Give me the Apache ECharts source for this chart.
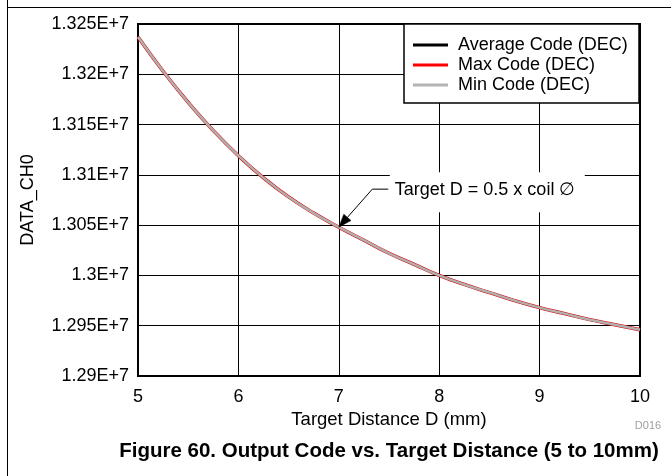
<!DOCTYPE html>
<html><head><meta charset="utf-8">
<script src="https://cdn.jsdelivr.net/npm/echarts@6/dist/echarts.min.js"></script>
<style>html,body{margin:0;padding:0;background:#fff}#c{width:671px;height:476px}</style>
</head><body><div id="c"></div>
<script>
// Target distance (mm)
const distances = [5, 5.25, 5.5, 5.75, 6, 6.25, 6.5, 6.75, 7, 7.25, 7.5, 7.75, 8, 8.25, 8.5, 8.75, 9, 9.25, 9.5, 9.75, 10];
// Codes (DEC)
const avgCode = [13237000, 13203000, 13172000, 13144000, 13119000, 13097000, 13078000, 13062000, 13048000, 13035000, 13022000, 13011000, 13000000, 12991000, 12983000, 12975000, 12968000, 12962000, 12956000, 12951000, 12946000];
const maxCode = [13237000, 13203000, 13172000, 13144000, 13119000, 13097000, 13078000, 13062000, 13048000, 13035000, 13022000, 13011000, 13000000, 12991000, 12983000, 12975000, 12968000, 12962000, 12956000, 12951000, 12946000];
const minCode = [13237000, 13203000, 13172000, 13144000, 13119000, 13097000, 13078000, 13062000, 13048000, 13035000, 13022000, 13011000, 13000000, 12991000, 12983000, 12975000, 12968000, 12962000, 12956000, 12951000, 12946000];
const yTicks = [12900000, 12950000, 13000000, 13050000, 13100000, 13150000, 13200000, 13250000];
const yTickLabels = ['1.29E+7', '1.295E+7', '1.3E+7', '1.305E+7', '1.31E+7', '1.315E+7', '1.32E+7', '1.325E+7'];
const xTickLabels = ['5', '6', '7', '8', '9', '10'];
const seriesNames = ['Average Code (DEC)', 'Max Code (DEC)', 'Min Code (DEC)'];
const annotationText = 'Target D = 0.5 x coil \u2205';
const annotationX = 7;
const captionText = 'Figure 60. Output Code vs. Target Distance (5 to 10mm)';

const FONT = '"Liberation Sans", Arial, Helvetica, sans-serif';
const pairs = arr => distances.map((d, i) => [d, arr[i]]);

const chart = echarts.init(document.getElementById('c'), null, {renderer: 'canvas'});
const option = {
  animation: false,
  backgroundColor: '#fff',
  grid: {left: 138, right: 31, top: 24, bottom: 100, show: true, borderColor: '#000', borderWidth: 2, backgroundColor: 'transparent', containLabel: false},
  xAxis: {
    type: 'value', min: 5, max: 10, interval: 1,
    name: 'Target Distance D (mm)', nameLocation: 'middle', nameGap: 30,
    nameTextStyle: {color: '#000', fontSize: 18.5, fontFamily: FONT},
    axisLine: {show: false}, axisTick: {show: false},
    axisLabel: {color: '#000', fontSize: 18, fontFamily: FONT, margin: 12,
      formatter: v => { const i = Math.round(v - 5); return xTickLabels[i] !== undefined ? xTickLabels[i] : ''; }},
    splitLine: {show: true, lineStyle: {color: '#000', width: 1}}
  },
  yAxis: {
    type: 'value', min: 12900000, max: 13250000, interval: 50000,
    name: 'DATA_CH0', nameLocation: 'middle', nameGap: 101,
    nameTextStyle: {color: '#000', fontSize: 18, fontFamily: FONT},
    axisLine: {show: false}, axisTick: {show: false},
    axisLabel: {color: '#000', fontSize: 18, fontFamily: FONT, margin: 9,
      formatter: v => { const i = yTicks.indexOf(Math.round(v)); return i >= 0 ? yTickLabels[i] : ''; }},
    splitLine: {show: true, lineStyle: {color: '#000', width: 1}}
  },
  legend: {
    orient: 'vertical', left: 413, top: 35, padding: 0, itemGap: 0,
    itemWidth: 35, itemHeight: 3, icon: 'rect', z: 10,
    textStyle: {color: '#000', fontSize: 18, fontFamily: FONT, lineHeight: 20, padding: [0, 0, 0, 5]},
    data: seriesNames
  },
  series: [
    {name: seriesNames[0], type: 'line', smooth: true, showSymbol: false, data: pairs(avgCode),
      lineStyle: {color: '#000', width: 2}, itemStyle: {color: '#000'}, z: 2},
    {name: seriesNames[1], type: 'line', smooth: true, showSymbol: false, data: pairs(maxCode),
      lineStyle: {color: '#e00000', width: 3.4}, itemStyle: {color: '#ff0000'}, z: 3},
    {name: seriesNames[2], type: 'line', smooth: true, showSymbol: false, data: pairs(minCode),
      lineStyle: {color: '#b0b0b0', width: 2.5}, itemStyle: {color: '#b4b4b4'}, z: 4}
  ]
};
chart.setOption(option);

// Annotation anchored on the data point at annotationX
const idx = distances.indexOf(annotationX);
const tip = chart.convertToPixel({gridIndex: 0}, [annotationX, avgCode[idx]]);
const elbow = [tip[0] + 33.5, tip[1] - 38];
const lineEnd = [elbow[0] + 16, elbow[1]];
const dx = elbow[0] - tip[0], dy = elbow[1] - tip[1], L = Math.hypot(dx, dy);
const ux = dx / L, uy = dy / L, px = -uy, py = ux;
const aLen = 13, aHalf = 4.8;
const base = [tip[0] + ux * aLen, tip[1] + uy * aLen];
const gridRight = chart.convertToPixel({gridIndex: 0}, [10, 13250000]);
const gridLeft = chart.convertToPixel({gridIndex: 0}, [5, 12900000]);
const midX = (gridRight[0] + gridLeft[0]) / 2;

chart.setOption({
  graphic: [
    // outer figure frame
    {type: 'line', z: 20, shape: {x1: 7.5, y1: 0, x2: 7.5, y2: 476}, style: {stroke: '#000', lineWidth: 1}},
    {type: 'line', z: 20, shape: {x1: 7, y1: 7.5, x2: 671, y2: 7.5}, style: {stroke: '#000', lineWidth: 1}},
    // legend box
    {type: 'rect', z: 3, shape: {x: 404, y: 24, width: 235, height: 79}, style: {fill: '#fff', stroke: '#000', lineWidth: 1.5}},
    // annotation background
    {type: 'rect', z: 3, shape: {x: tip[0] + 51, y: tip[1] - 55, width: 195, height: 40}, style: {fill: '#fff', stroke: null}},
    {type: 'text', z: 6, x: tip[0] + 56, y: tip[1] - 37.5,
      style: {text: annotationText, fill: '#000', font: '18px ' + FONT, textAlign: 'left', textVerticalAlign: 'middle'}},
    {type: 'polyline', z: 6, shape: {points: [lineEnd, elbow, base]}, style: {stroke: '#000', lineWidth: 1, fill: null}},
    {type: 'polygon', z: 6, shape: {points: [tip, [base[0] + px * aHalf, base[1] + py * aHalf], [base[0] - px * aHalf, base[1] - py * aHalf]]}, style: {fill: '#000', stroke: '#000', lineWidth: 0.5}},
    // small id
    {type: 'text', z: 6, x: 648, y: 426, style: {text: 'D016', fill: '#a0a0a0', font: '11px ' + FONT, textAlign: 'center', textVerticalAlign: 'middle'}},
    // caption
    {type: 'text', z: 6, x: midX, y: 451, style: {text: captionText, fill: '#000', font: 'bold 20.5px ' + FONT, textAlign: 'center', textVerticalAlign: 'middle'}}
  ]
});
</script></body></html>
